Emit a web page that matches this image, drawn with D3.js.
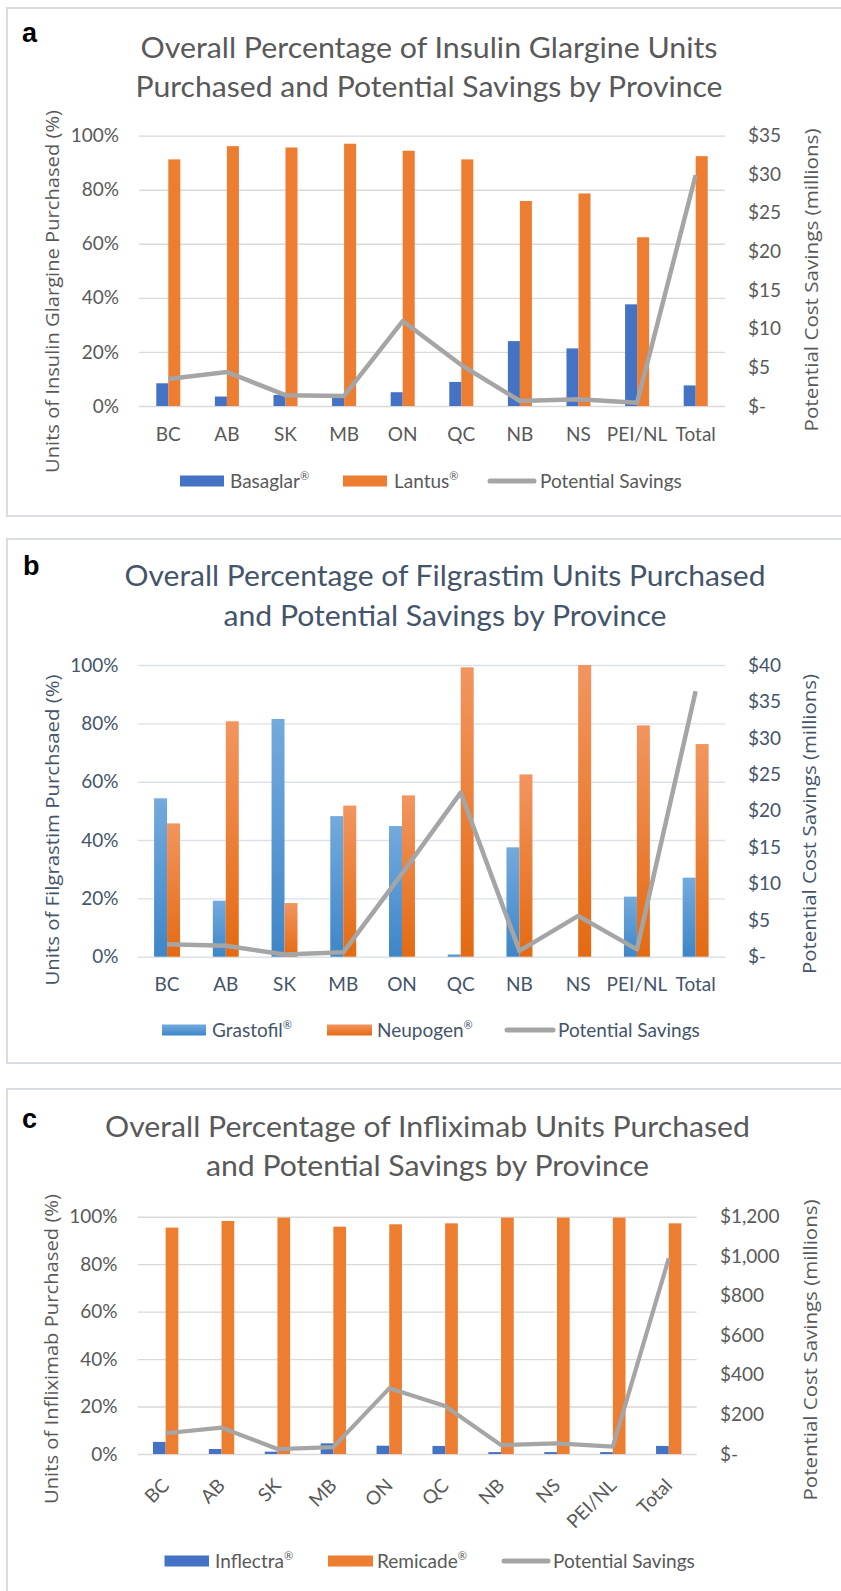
<!DOCTYPE html>
<html><head><meta charset="utf-8">
<script src="https://cdn.jsdelivr.net/npm/d3@7"></script>
<style>body{margin:0;background:#fff}</style>
</head><body><svg id="chart" width="841" height="1591"></svg>
<script>
// ---------- DATA ----------
const provinces = ["BC","AB","SK","MB","ON","QC","NB","NS","PEI/NL","Total"];
const pctTicks = [0,20,40,60,80,100];

// Panel a: Insulin glargine
const basaglar = [8.4,3.5,4.1,3.3,5.1,8.9,24.0,21.3,37.6,7.6];
const lantus   = [91.2,96.1,95.6,97.0,94.4,91.2,75.8,78.6,62.4,92.4];
const glargineSavings = [3.5,4.4,1.4,1.3,11.0,5.3,0.65,0.86,0.43,29.9];
const glargineTicks = [0,5,10,15,20,25,30,35];

// Panel b: Filgrastim
const grastofil = [54.3,19.2,81.5,48.2,44.8,0.8,37.5,0,20.6,27.1];
const neupogen  = [45.7,80.7,18.4,51.8,55.3,99.2,62.5,100,79.3,72.9];
const filgrastimSavings = [1.7,1.5,0.3,0.6,11.4,22.5,0.8,5.6,1.0,36.4];
const filgrastimTicks = [0,5,10,15,20,25,30,35,40];

// Panel c: Infliximab
const inflectra = [5.1,2.1,1.0,4.5,3.5,3.4,0.8,0.8,0.8,3.4];
const remicade  = [95.4,98.2,99.6,95.8,96.8,97.2,99.6,99.6,99.6,97.2];
const infliximabSavings = [105,133,25,35,332,243,45,54,37,989];
const infliximabTicks = [0,200,400,600,800,1000,1200];

// ---------- DRAWING ----------
const svg = d3.select("#chart");
const defs = svg.append("defs");
function grad(id, top, bottom){
  const lg = defs.append("linearGradient").attr("id",id).attr("x1",0).attr("y1",0).attr("x2",0).attr("y2",1);
  lg.append("stop").attr("offset","0%").attr("stop-color",top);
  lg.append("stop").attr("offset","100%").attr("stop-color",bottom);
}
grad("gBlue","#74AADD","#3E86C8");
grad("gOrange","#F2955F","#E46A12");

const CAL = "Lato, 'Open Sans', sans-serif";
const SEG = "'Open Sans', 'Noto Sans', sans-serif";
const money = d => d === 0 ? "$-" : "$" + d3.format(",")(d);

function panel(cfg){
  const g = svg.append("g");
  g.append("rect").attr("x",cfg.box[0]).attr("y",cfg.box[1]).attr("width",cfg.box[2]).attr("height",cfg.box[3])
    .attr("fill","none").attr("stroke","#D9DDE3").attr("stroke-width",2);
  g.append("text").attr("x",cfg.letter[0]).attr("y",cfg.letter[1]).text(cfg.letter[2])
    .attr("font-family","'Liberation Sans', Arial, sans-serif").attr("font-weight","bold").attr("font-size",27).attr("fill","#000");
  cfg.title.forEach((t,i)=>{
    g.append("text").attr("x",cfg.titleX).attr("y",cfg.titleY[i]).attr("text-anchor","middle")
      .attr("font-family",CAL).attr("font-size",28).attr("fill",cfg.txt)
      .attr("textLength",cfg.titleW[i]).attr("lengthAdjust","spacingAndGlyphs").text(t);
  });

  const x = d3.scaleBand().domain(provinces).range([cfg.x0,cfg.x1]);
  const y = d3.scaleLinear().domain([0,100]).range([cfg.yBot,cfg.yTop]);
  const y2 = d3.scaleLinear().domain([0,cfg.rMax]).range([cfg.yBot,cfg.yTop]);

  // left axis + gridlines
  g.append("g").attr("transform",`translate(${cfg.x0},0)`)
    .call(d3.axisLeft(y).tickValues(pctTicks).tickSize(-(cfg.x1-cfg.x0)).tickPadding(cfg.x0-cfg.leftTickEnd).tickFormat(d=>d+"%"))
    .call(s=>{
      s.select(".domain").remove();
      s.selectAll("line").attr("stroke",cfg.grid).attr("stroke-width",1.4);
      s.selectAll("text").attr("font-family",CAL).attr("font-size",19).attr("fill",cfg.txt);
    });
  // right axis
  g.append("g").attr("transform",`translate(${cfg.x1},0)`)
    .call(d3.axisRight(y2).tickValues(cfg.rTicks).tickSize(0).tickPadding(cfg.rightTickStart-cfg.x1).tickFormat(money))
    .call(s=>{
      s.select(".domain").remove();
      s.selectAll("text").attr("font-family",CAL).attr("font-size",19).attr("fill",cfg.txt);
    });
  // bottom axis labels
  const bx = g.append("g").attr("transform",`translate(0,${cfg.yBot})`)
    .call(d3.axisBottom(x).tickSize(0))
    .call(s=>{ s.select(".domain").remove(); s.selectAll("line").remove(); });
  bx.selectAll("text").attr("font-family",CAL).attr("font-size",19).attr("fill",cfg.txt);
  if(cfg.rotate){
    bx.selectAll(".tick text").attr("y",0).attr("dy","0.35em").attr("text-anchor","end")
      .attr("transform",`translate(0,${cfg.labelY - cfg.yBot}) rotate(-45)`);
  } else {
    bx.selectAll(".tick text").attr("y",cfg.labelY - cfg.yBot).attr("dy",null);
  }

  // bars
  const bw = x.bandwidth()*cfg.barRatio;
  const cx = d => x(d) + x.bandwidth()/2;
  g.append("g").selectAll("rect").data(provinces).join("rect")
    .attr("x",d=>cx(d)-bw).attr("width",bw)
    .attr("y",(d,i)=>y(cfg.s1[i])).attr("height",(d,i)=>y(0)-y(cfg.s1[i]))
    .attr("fill",cfg.c1);
  g.append("g").selectAll("rect").data(provinces).join("rect")
    .attr("x",d=>cx(d)).attr("width",bw)
    .attr("y",(d,i)=>y(cfg.s2[i])).attr("height",(d,i)=>y(0)-y(cfg.s2[i]))
    .attr("fill",cfg.c2);
  // line
  const line = d3.line().x((d,i)=>cx(provinces[i])).y(d=>y2(d));
  g.append("path").datum(cfg.s3).attr("d",line).attr("fill","none")
    .attr("stroke","#A5A5A5").attr("stroke-width",cfg.lw).attr("stroke-linejoin","round");

  // axis titles
  g.append("text").attr("transform",`translate(${cfg.lTitle[0]},${cfg.lTitle[1]}) rotate(-90)`)
    .attr("text-anchor","middle").attr("dy","0.35em").attr("font-family",SEG).attr("font-size",19).attr("fill",cfg.txt)
    .attr("textLength",cfg.lTitle[2]).attr("lengthAdjust","spacingAndGlyphs").text(cfg.lTitleText);
  g.append("text").attr("transform",`translate(${cfg.rTitle[0]},${cfg.rTitle[1]}) rotate(-90)`)
    .attr("text-anchor","middle").attr("dy","0.35em").attr("font-family",SEG).attr("font-size",19).attr("fill",cfg.txt)
    .attr("textLength",cfg.rTitle[2]).attr("lengthAdjust","spacingAndGlyphs").text("Potential Cost Savings (millions)");

  // legend
  const ly = cfg.legendY;
  cfg.legend.forEach(it=>{
    if(it.type==="rect"){
      g.append("rect").attr("x",it.x0).attr("y",ly-5.5).attr("width",it.x1-it.x0).attr("height",11).attr("fill",it.fill);
    } else {
      g.append("line").attr("x1",it.x0).attr("x2",it.x1).attr("y1",ly).attr("y2",ly)
        .attr("stroke","#A5A5A5").attr("stroke-width",5).attr("stroke-linecap","round");
    }
    const t = g.append("text").attr("x",it.tx).attr("y",ly).attr("dy","0.35em")
      .attr("font-family",CAL).attr("font-size",19).attr("fill",cfg.txt);
    t.append("tspan").text(it.label);
    if(it.reg) t.append("tspan").attr("font-size",11).attr("dy","-0.7em").text("®");
  });
}

panel({
  box:[7,8,845,508], letter:[22,42,"a"],
  title:["Overall Percentage of Insulin Glargine Units","Purchased and Potential Savings by Province"],
  titleX:429, titleY:[58.3,96.7], titleW:[577,587], txt:"#595959", grid:"#D9D9D9",
  x0:139, x1:725, yTop:135.6, yBot:406, leftTickEnd:119, rightTickStart:748, labelY:441,
  rMax:35, rTicks:glargineTicks, barRatio:0.205, lw:4.5,
  s1:basaglar, s2:lantus, s3:glargineSavings, c1:"#4472C4", c2:"#ED7D31",
  lTitle:[52,291.5,363], lTitleText:"Units of Insulin Glargine  Purchased (%)", rTitle:[811,280,303],
  legendY:481,
  legend:[{type:"rect",x0:180,x1:224,fill:"#4472C4",tx:230,label:"Basaglar",reg:true},
          {type:"rect",x0:343,x1:387,fill:"#ED7D31",tx:394,label:"Lantus",reg:true},
          {type:"line",x0:490,x1:534,tx:540,label:"Potential Savings"}]
});

panel({
  box:[7,539,845,524], letter:[23,575,"b"],
  title:["Overall Percentage of Filgrastim Units Purchased","and Potential Savings by Province"],
  titleX:445, titleY:[585.7,625.7], titleW:[641,443], txt:"#44546A", grid:"#DCE1E8",
  x0:137.7, x1:725, yTop:665, yBot:956.7, leftTickEnd:118.5, rightTickStart:748, labelY:991,
  rMax:40, rTicks:filgrastimTicks, barRatio:0.221, lw:4.5,
  s1:grastofil, s2:neupogen, s3:filgrastimSavings, c1:"url(#gBlue)", c2:"url(#gOrange)",
  lTitle:[52,830,311], lTitleText:"Units of Filgrastim Purchsaed (%)", rTitle:[809,824,300],
  legendY:1030,
  legend:[{type:"rect",x0:162,x1:206,fill:"url(#gBlue)",tx:212,label:"Grastofil",reg:true},
          {type:"rect",x0:327,x1:372,fill:"url(#gOrange)",tx:377,label:"Neupogen",reg:true},
          {type:"line",x0:507,x1:553,tx:558,label:"Potential Savings"}]
});

panel({
  box:[7,1089,845,540], letter:[22,1128,"c"],
  title:["Overall Percentage of Infliximab Units Purchased","and Potential Savings by Province"],
  titleX:427.5, titleY:[1137.2,1175.5], titleW:[645,443], txt:"#595959", grid:"#D9D9D9",
  x0:137.7, x1:696.7, yTop:1216.7, yBot:1454, leftTickEnd:117.5, rightTickStart:720, labelY:1482,
  rotate:true,
  rMax:1200, rTicks:infliximabTicks, barRatio:0.227, lw:4.2,
  s1:inflectra, s2:remicade, s3:infliximabSavings, c1:"#4472C4", c2:"#ED7D31",
  lTitle:[51,1349,310], lTitleText:"Units of Infliximab Purchased (%)", rTitle:[810,1350,301],
  legendY:1561,
  legend:[{type:"rect",x0:164.5,x1:209,fill:"#4472C4",tx:215,label:"Inflectra",reg:true},
          {type:"rect",x0:328,x1:373,fill:"#ED7D31",tx:377,label:"Remicade",reg:true},
          {type:"line",x0:504,x1:548,tx:553,label:"Potential Savings"}]
});
</script></body></html>
